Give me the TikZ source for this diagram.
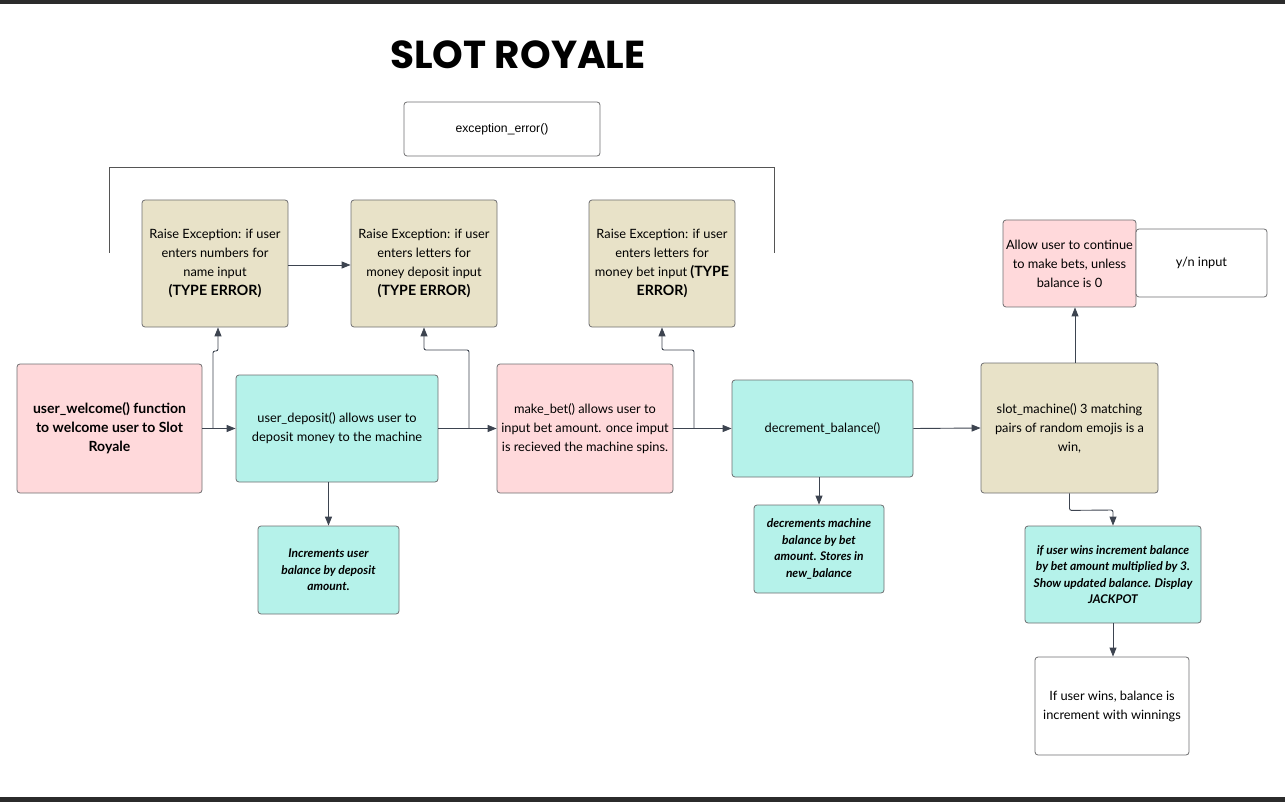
\documentclass[tikz,border=0pt]{standalone}
\usepackage{fontspec}
\setmainfont{Lato}
\newfontfamily\arialfont{Liberation Sans}
\newfontfamily\titlefont{Poppins}
\usetikzlibrary{arrows.meta}
\definecolor{pinkbox}{HTML}{FFD9DB}
\definecolor{tanbox}{HTML}{E8E2C8}
\definecolor{cyanbox}{HTML}{B5F2EA}
\definecolor{edge}{HTML}{6E6E70}
\definecolor{conncol}{HTML}{3D4450}
\definecolor{barcol}{HTML}{2B2B2B}
\tikzset{
  box/.style={draw=edge, line width=0.8pt, rounded corners=3pt, align=center, inner sep=0pt,
    font=\fontsize{12.8}{19}\selectfont},
  pinkb/.style={box, fill=pinkbox},
  tanb/.style={box, fill=tanbox},
  cyanb/.style={box, fill=cyanbox},
  whiteb/.style={box, fill=white},
  conn/.style={draw=conncol, line width=0.9pt, -{Triangle[length=9pt,width=7pt]}},
  bracketline/.style={draw=barcol!80, line width=0.9pt},
  notefont/.style={font=\fontsize{12}{16.5}\selectfont\bfseries\itshape}
}
\newcommand{\typeerr}[1]{{\bfseries\fontsize{14.2}{19}\selectfont #1}}
\begin{document}
\begin{tikzpicture}[x=1pt,y=-1pt]
\useasboundingbox (0,0) rectangle (1285,802);
\fill[barcol] (0,0) rectangle (1285,4);
\fill[barcol] (0,797) rectangle (1285,802);

\node[font=\titlefont\bfseries\fontsize{39}{42}\selectfont] (title) at (518,55) {SLOT ROYALE};

\node[whiteb, minimum width=196pt, minimum height=54pt, font=\arialfont\fontsize{12.2}{14}\selectfont] (exc) at (502,129) {exception\_error()};

\coordinate (bl) at (109,253);
\coordinate (br) at (774,253);
\draw[bracketline] (bl) -- (109,167) -- (774,167) -- (br);

\node[tanb, minimum width=146pt, minimum height=127pt] (r1) at (215,263.5)
  {Raise Exception: if user\\enters numbers for\\name input\\\typeerr{(TYPE ERROR)}};
\node[tanb, minimum width=146pt, minimum height=127pt] (r2) at (424,263.5)
  {Raise Exception: if user\\enters letters for\\money deposit input\\\typeerr{(TYPE ERROR)}};
\node[tanb, minimum width=146pt, minimum height=127pt] (r3) at (662,263.5)
  {Raise Exception: if user\\enters letters for\\money bet input \typeerr{(TYPE}\\\typeerr{ERROR)}};

\node[pinkb, minimum width=185pt, minimum height=129pt, font=\fontsize{14}{19}\selectfont\bfseries] (welcome) at (109.5,428.5)
  {user\_welcome() function\\to welcome user to Slot\\Royale};
\node[cyanb, minimum width=202pt, minimum height=107pt] (deposit) at (337,428.5)
  {user\_deposit() allows user to\\deposit money to the machine};
\node[pinkb, minimum width=176pt, minimum height=129pt] (bet) at (585,428.5)
  {make\_bet() allows user to\\input bet amount. once imput\\is recieved the machine spins.};
\node[cyanb, minimum width=181pt, minimum height=97pt] (dec) at (822.5,428.5)
  {decrement\_balance()};
\node[cyanb, minimum width=130pt, minimum height=88pt, notefont] (decs) at (819,549)
  {decrements machine\\balance by bet\\amount. Stores in\\new\_balance};
\node[cyanb, minimum width=141pt, minimum height=88pt, notefont] (incs) at (328.5,570)
  {Increments user\\balance by deposit\\amount.};
\node[tanb, minimum width=177pt, minimum height=130pt] (slot) at (1069.5,428)
  {slot\_machine() 3 matching\\pairs of random emojis is a\\win,};
\node[pinkb, minimum width=133pt, minimum height=87pt] (allow) at (1069.5,263.5)
  {Allow user to continue\\to make bets, unless\\balance is 0};
\node[whiteb, minimum width=131pt, minimum height=68pt] (yn) at (1201.5,263)
  {y/n input};
\node[cyanb, minimum width=176pt, minimum height=97pt, notefont] (wins) at (1113,574.5)
  {if user wins increment balance\\by bet amount multiplied by 3.\\Show updated balance. Display\\JACKPOT};
\node[whiteb, minimum width=154pt, minimum height=98pt] (final) at (1112,706)
  {If user wins, balance is\\increment with winnings};

% main flow
\draw[conn] (welcome.east) -- (deposit.west);
\draw[conn] (deposit.east) -- (bet.west);
\draw[conn] (bet.east) -- (dec.west);
\draw[conn] (dec.east) -- (slot.west);
\draw[conn] (r1.east |- 0,265) -- (r2.west |- 0,265);

% branches to exceptions
\coordinate (j1) at (213,428.5);
\coordinate (j2) at (469,428.5);
\coordinate (j3) at (694,428.5);
\draw[conn] (j1) [rounded corners=2pt] -- (213,351) -- (218,351) -- (218,340) [sharp corners] -- ([xshift=3pt]r1.south);
\draw[conn] (j2) [rounded corners=2pt] -- (469,350) -- (424,350) -- (424,340) [sharp corners] -- (r2.south);
\draw[conn] (j3) [rounded corners=2pt] -- (694,350) -- (662,350) -- (662,340) [sharp corners] -- (r3.south);

% downward notes
\draw[conn] (incs.north |- deposit.south) -- (incs.north);
\draw[conn] (decs.north |- dec.south) -- (decs.north);
\draw[conn] ([xshift=5.5pt]slot.north) -- ([xshift=5.5pt]allow.south);
\draw[conn] (slot.south) [rounded corners=2pt] -- ++(0,17) -- (wins.north |- 0,510) -- (wins.north |- 0,518) [sharp corners] -- (wins.north);
\draw[conn] (wins.south) -- (wins.south |- final.north);
\end{tikzpicture}
\end{document}
